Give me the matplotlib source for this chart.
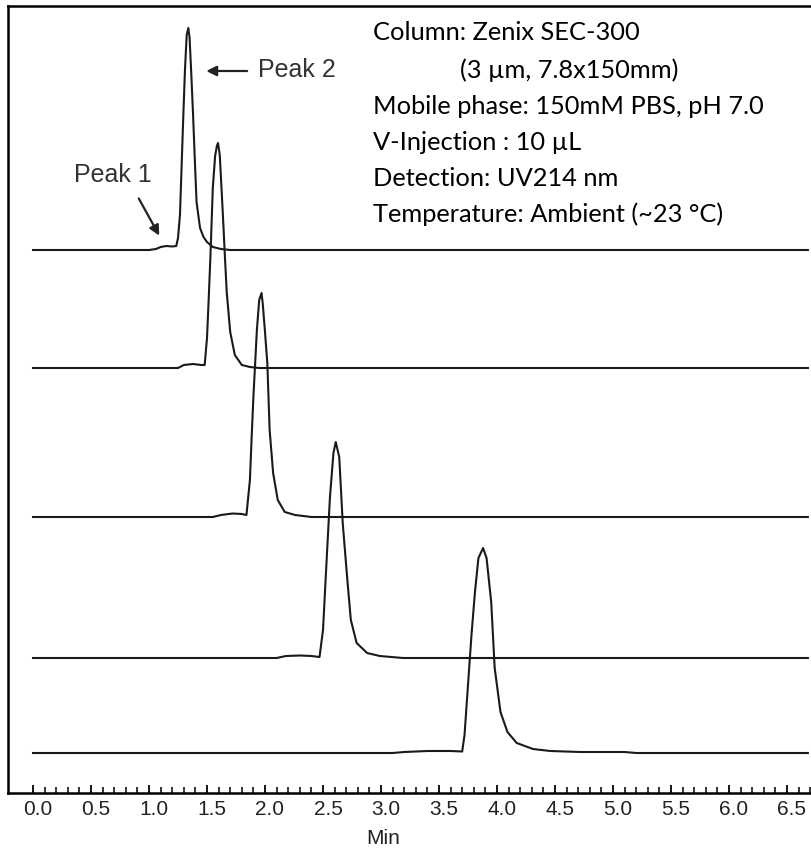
import matplotlib
matplotlib.use("Agg")
import matplotlib.pyplot as plt
from matplotlib.transforms import ScaledTranslation

# ---- data (time in min, signal in arbitrary units above each baseline) ----
t1 = [0.00, 1.00, 1.06, 1.10, 1.15, 1.20, 1.235, 1.25, 1.267, 1.28, 1.296, 1.31, 1.325, 1.339,
      1.35, 1.365, 1.38, 1.395, 1.41, 1.44, 1.47, 1.50, 1.55, 1.62, 1.70, 6.68]
h1 = [0, 0, 1, 3, 4, 3.5, 4, 12, 35, 80, 135, 180, 215, 222,
      212, 175, 135, 90, 48, 22, 13, 8, 3, 1, 0, 0]

t2 = [0.00, 1.25, 1.30, 1.38, 1.45, 1.48, 1.50, 1.515, 1.53, 1.55, 1.57, 1.585, 1.595,
      1.61, 1.625, 1.64, 1.655, 1.67, 1.70, 1.74, 1.80, 1.87, 1.95, 6.68]
h2 = [0, 0, 3, 4, 3, 3, 30, 70, 113, 180, 212, 222, 225,
      213, 180, 146, 110, 76, 36, 13, 3, 1, 0, 0]

t3 = [0.00, 1.55, 1.62, 1.72, 1.80, 1.84, 1.87, 1.885, 1.90, 1.93, 1.95, 1.97,
      1.98, 2.00, 2.02, 2.04, 2.07, 2.11, 2.17, 2.26, 2.40, 6.68]
h3 = [0, 0, 2, 3.5, 3, 2, 37, 80, 120, 187, 217, 224,
      214, 185, 154, 87, 44, 17, 5, 2, 0, 0]

t4 = [0.00, 2.10, 2.18, 2.30, 2.40, 2.47, 2.50, 2.53, 2.56, 2.59, 2.61,
      2.64, 2.67, 2.71, 2.74, 2.79, 2.88, 2.99, 3.19, 6.68]
h4 = [0, 0, 2, 2.5, 2, 1, 28, 95, 161, 205, 216,
      201, 135, 78, 38, 15, 5, 2, 0, 0]

t5 = [0.00, 3.10, 3.20, 3.40, 3.60, 3.70, 3.72, 3.75, 3.78, 3.81, 3.84, 3.88,
      3.91, 3.95, 3.98, 4.03, 4.09, 4.17, 4.31, 4.46, 4.72, 5.10, 5.20, 6.68]
h5 = [0, 0, 1, 2, 2, 1.5, 18, 68, 118, 161, 195, 205,
      195, 151, 85, 41, 21, 10, 4, 2, 1, 1, 0, 0]

times = [t1, t2, t3, t4, t5]
signals = [h1, h2, h3, h4, h5]
offsets = [543, 425, 276, 135, 40]

x_major = [0.0, 0.5, 1.0, 1.5, 2.0, 2.5, 3.0, 3.5, 4.0, 4.5, 5.0, 5.5, 6.0, 6.5]
x_labels = ["0.0", "0.5", "1.0", "1.5", "2.0", "2.5", "3.0", "3.5",
            "4.0", "4.5", "5.0", "5.5", "6.0", "6.5"]
x_minor = [i / 10 for i in range(0, 68)]

info_lines = ["Column: Zenix SEC-300",
              "(3 \u00b5m, 7.8x150mm)",
              "Mobile phase: 150mM PBS, pH 7.0",
              "V-Injection : 10 \u00b5L",
              "Detection: UV214 nm",
              "Temperature: Ambient (~23 \u00b0C)"]

# ---- figure ----
W, H = 812, 855
fig = plt.figure(figsize=(W / 100, H / 100), dpi=100)
ax = fig.add_axes([8 / W, 1 - 793 / H, 1 - 8 / W, (793 - 6) / H])
ax.set_xlim((8 - 33) / 116, (812 - 33) / 116)
ax.set_ylim(0, 787)

for t, h, off in zip(times, signals, offsets):
    ax.plot(t, [v + off for v in h], color="#1a1a1a", lw=1.5, solid_joinstyle="round")

ax.spines["right"].set_visible(False)
for s in ["left", "top", "bottom"]:
    ax.spines[s].set_linewidth(1.8)
    ax.spines[s].set_color("black")

ax.set_yticks([])
ax.set_xticks(x_major)
ax.set_xticklabels(x_labels, fontsize=15, family="Liberation Sans", color="#222222")
ax.set_xticks(x_minor, minor=True)
ax.tick_params(axis="x", which="major", direction="in", length=6, width=1.3, pad=5)
ax.tick_params(axis="x", which="minor", direction="in", length=4.5, width=1.1)
shift = ScaledTranslation(5 / 100, 0, fig.dpi_scale_trans)
for lab in ax.get_xticklabels():
    lab.set_transform(lab.get_transform() + shift)

ax.text((383 - 8) / 804, (793 - 838) / 787, "Min", transform=ax.transAxes,
        fontsize=15, family="Liberation Sans", color="#222222", ha="center", va="center")

# annotations
ax.annotate("", xy=(1.47, 722), xytext=(1.87, 722),
            arrowprops=dict(arrowstyle="-|>", color="#222222", lw=1.6, mutation_scale=15))
ax.text(1.94, 723, "Peak 2", fontsize=18, family="Liberation Sans", color="#333333",
        va="center", ha="left")
ax.annotate("", xy=(1.10, 555), xytext=(0.90, 597),
            arrowprops=dict(arrowstyle="-|>", color="#222222", lw=1.6, mutation_scale=15))
ax.text(0.69, 618, "Peak 1", fontsize=18, family="Liberation Sans", color="#333333",
        va="center", ha="center")

ys = [760, 723, 687, 651, 615, 579]
xs = [2.93, 3.68, 2.93, 2.93, 2.93, 2.93]
for s, x, y in zip(info_lines, xs, ys):
    ax.text(x, y, s, fontsize=18.3, family="Lato", color="black", va="center", ha="left")

fig.savefig("out.png", dpi=100)
